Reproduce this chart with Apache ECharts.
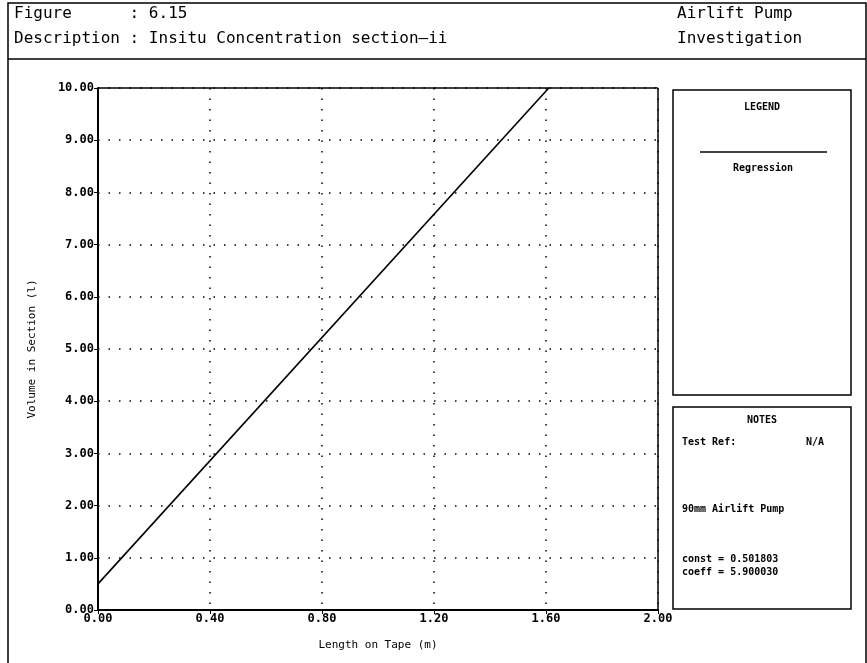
<!DOCTYPE html>
<html>
<head>
<meta charset="utf-8">
<script src="https://cdn.jsdelivr.net/npm/echarts@6/dist/echarts.min.js"></script>
<style>
  html, body { margin: 0; padding: 0; background: #fff; }
  #main { width: 867px; height: 663px; }
</style>
</head>
<body>
<div id="main"></div>
<script>
// regression line
var lengthOnTape = [0.00, 1.61];
var volumeInSection = [0.50, 10.00];
var xTicks = [0, 0.4, 0.8, 1.2, 1.6, 2.0];
var yTicks = [0, 1, 2, 3, 4, 5, 6, 7, 8, 9, 10];

var mono = '"DejaVu Sans Mono", monospace';
var chart = echarts.init(document.getElementById('main'));

var pts = lengthOnTape.map(function (x, i) { return [x, volumeInSection[i]]; });

var option = {
    backgroundColor: '#fff',
    animation: false,
    grid: { left: 98, right: 209, top: 88, bottom: 53 },
    xAxis: {
        type: 'value', min: 0, max: 2, interval: 0.4,
        name: 'Length on Tape (m)', nameLocation: 'middle', nameGap: 30,
        nameTextStyle: { fontFamily: mono, fontSize: 11, color: '#000' },
        axisLine: { show: true, lineStyle: { color: '#000', width: 2 } },
        axisTick: { show: true, length: 4, lineStyle: { color: '#000' } },
        axisLabel: { fontFamily: mono, fontSize: 12, fontWeight: 'bold', color: '#000', margin: 3,
            formatter: function (v) { return v.toFixed(2); } },
        splitLine: { show: true, lineStyle: { color: '#000', type: [1.5, 9], width: 1.5 } }
    },
    yAxis: {
        type: 'value', min: 0, max: 10, interval: 1,
        name: 'Volume in Section (l)', nameLocation: 'middle', nameGap: 60,
        nameTextStyle: { fontFamily: mono, fontSize: 11, color: '#000' },
        axisLine: { show: true, lineStyle: { color: '#000', width: 2 } },
        axisTick: { show: true, length: 4, lineStyle: { color: '#000' } },
        axisLabel: { fontFamily: mono, fontSize: 12, fontWeight: 'bold', color: '#000', margin: 4,
            formatter: function (v) { return v.toFixed(2); } },
        splitLine: { show: true, lineStyle: { color: '#000', type: [1.5, 9], width: 1.5 } }
    },
    series: [{
        name: 'Regression', type: 'line', data: pts, showSymbol: false,
        lineStyle: { color: '#000', width: 1.6 }
    }],
    graphic: [
        // outer frame and header
        { type: 'rect', shape: { x: 8, y: 3, width: 858, height: 662 }, style: { fill: null, stroke: '#000', lineWidth: 1.5 } },
        { type: 'line', shape: { x1: 8, y1: 59, x2: 866, y2: 59 }, style: { stroke: '#000', lineWidth: 1.5 } },
        { type: 'text', left: 14, top: 6, style: { text: 'Figure      : 6.15', font: '16px ' + mono, fill: '#000' } },
        { type: 'text', left: 14, top: 31, style: { text: 'Description : Insitu Concentration section\u2013ii', font: '16px ' + mono, fill: '#000' } },
        { type: 'text', left: 677, top: 6, style: { text: 'Airlift Pump', font: '16px ' + mono, fill: '#000' } },
        { type: 'text', left: 677, top: 31, style: { text: 'Investigation', font: '16px ' + mono, fill: '#000' } },
        // plot frame top/right
        { type: 'line', shape: { x1: 98, y1: 88, x2: 658, y2: 88 }, style: { stroke: '#000', lineWidth: 1.5 } },
        { type: 'line', shape: { x1: 658, y1: 88, x2: 658, y2: 610 }, style: { stroke: '#000', lineWidth: 1.5 } },
        // legend box
        { type: 'rect', shape: { x: 673, y: 90, width: 178, height: 305 }, style: { fill: null, stroke: '#000', lineWidth: 1.5 } },
        { type: 'text', x: 762, y: 102, style: { text: 'LEGEND', font: 'bold 10px ' + mono, fill: '#000', align: 'center' } },
        { type: 'line', shape: { x1: 700, y1: 152, x2: 827, y2: 152 }, style: { stroke: '#000', lineWidth: 1.5 } },
        { type: 'text', x: 763, y: 163, style: { text: 'Regression', font: 'bold 10px ' + mono, fill: '#000', align: 'center' } },
        // notes box
        { type: 'rect', shape: { x: 673, y: 407, width: 178, height: 202 }, style: { fill: null, stroke: '#000', lineWidth: 1.5 } },
        { type: 'text', x: 762, y: 415, style: { text: 'NOTES', font: 'bold 10px ' + mono, fill: '#000', align: 'center' } },
        { type: 'text', x: 682, y: 437, style: { text: 'Test Ref:', font: 'bold 10px ' + mono, fill: '#000' } },
        { type: 'text', x: 806, y: 437, style: { text: 'N/A', font: 'bold 10px ' + mono, fill: '#000' } },
        { type: 'text', x: 682, y: 504, style: { text: '90mm Airlift Pump', font: 'bold 10px ' + mono, fill: '#000' } },
        { type: 'text', x: 682, y: 554, style: { text: 'const = 0.501803', font: 'bold 10px ' + mono, fill: '#000' } },
        { type: 'text', x: 682, y: 567, style: { text: 'coeff = 5.900030', font: 'bold 10px ' + mono, fill: '#000' } }
    ]
};

chart.setOption(option);
</script>
</body>
</html>
